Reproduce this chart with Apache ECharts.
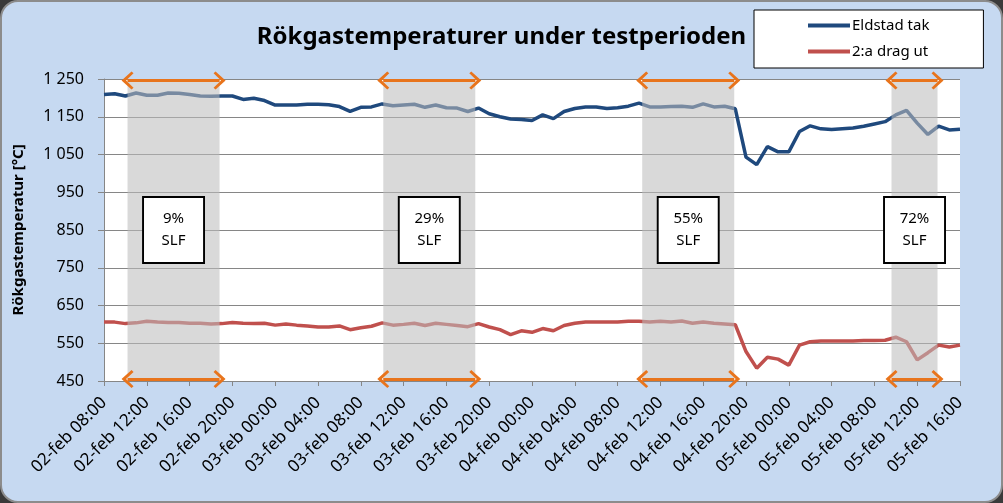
<!DOCTYPE html>
<html>
<head>
<meta charset="utf-8">
<title>Rökgastemperaturer under testperioden</title>
<script src="https://cdn.jsdelivr.net/npm/echarts@6/dist/echarts.min.js"></script>
<style>
  html, body { margin: 0; padding: 0; background: #3a3a3a; }
  #main {
    width: 1003px; height: 503px;
    box-sizing: border-box;
    border: 2px solid #8c8c8c;
    border-radius: 18px;
    background: #c6d9f1;
    overflow: hidden;
  }
</style>
</head>
<body>
<div id="main"></div>
<script>
// x-axis tick labels, every 4 hours
var tickLabels = ['02-feb 08:00', '02-feb 12:00', '02-feb 16:00', '02-feb 20:00',
  '03-feb 00:00', '03-feb 04:00', '03-feb 08:00', '03-feb 12:00', '03-feb 16:00', '03-feb 20:00',
  '04-feb 00:00', '04-feb 04:00', '04-feb 08:00', '04-feb 12:00', '04-feb 16:00', '04-feb 20:00',
  '05-feb 00:00', '05-feb 04:00', '05-feb 08:00', '05-feb 12:00', '05-feb 16:00'];

// hourly readings, starting 02-feb 08:00
var eldstadTak = [1209, 1211, 1205, 1213, 1207, 1207, 1213, 1212, 1209, 1205,
  1204, 1205, 1205, 1196, 1199, 1193, 1181, 1181, 1181, 1183,
  1183, 1182, 1177, 1164, 1175, 1176, 1184, 1179, 1181, 1183,
  1175, 1181, 1174, 1173, 1164, 1173, 1158, 1150, 1144, 1143,
  1140, 1155, 1145, 1164, 1172, 1176, 1176, 1172, 1174, 1178,
  1186, 1176, 1176, 1177, 1178, 1175, 1184, 1176, 1178, 1171,
  1043, 1023, 1071, 1057, 1057, 1111, 1126, 1118, 1116, 1118,
  1120, 1125, 1131, 1137, 1155, 1167, 1133, 1103, 1125, 1115, 1117];

var dragUt = [606, 606, 602, 604, 608, 606, 605, 605, 603, 603,
  601, 602, 605, 603, 602, 603, 598, 601, 598, 596,
  593, 593, 596, 586, 591, 595, 604, 598, 600, 603,
  597, 603, 600, 597, 594, 602, 593, 586, 573, 583,
  579, 589, 583, 597, 603, 606, 606, 606, 606, 608,
  608, 606, 608, 606, 609, 603, 606, 603, 601, 599,
  528, 484, 513, 508, 492, 545, 554, 556, 556, 556,
  556, 557, 557, 558, 566, 554, 506, 525, 545, 540, 545];

// test periods: start hour, end hour, share
var periodStart = [2.2, 26.1, 50.3, 73.6];
var periodEnd = [10.8, 34.7, 58.9, 77.9];
var periodLabel = ['9%', '29%', '55%', '72%'];

var chevron = 'path://M10,0 L20,10 L18,12 L10,4.5 L2,12 L0,10 Z';

var myChart = echarts.init(document.getElementById('main'));

var shadeData = [], arrowData = [], boxData = [];
for (var i = 0; i < periodStart.length; i++) {
  shadeData.push([{ xAxis: periodStart[i] }, { xAxis: periodEnd[i] }]);
  arrowData.push([{ coord: [periodStart[i], 1246] }, { coord: [periodEnd[i], 1246] }]);
  arrowData.push([{ coord: [periodStart[i], 455] }, { coord: [periodEnd[i], 455] }]);
  boxData.push({
    coord: [(periodStart[i] + periodEnd[i]) / 2, 850],
    value: periodLabel[i] + '\nSLF'
  });
}

function toPairs(arr) {
  return arr.map(function (v, h) { return [h, v]; });
}

myChart.setOption({
  backgroundColor: 'transparent',
  animation: false,
  textStyle: { fontFamily: 'Noto Sans' },
  title: {
    text: 'Rökgastemperaturer under testperioden',
    left: 'center',
    top: 18,
    textStyle: { fontSize: 24, fontWeight: 'bold', color: '#000', fontFamily: 'Noto Sans' }
  },
  legend: {
    data: ['Eldstad tak', '2:a drag ut'],
    orient: 'vertical',
    left: 752,
    top: 8,
    icon: 'rect',
    itemWidth: 42,
    itemHeight: 4,
    itemGap: 11,
    padding: [8, 54, 9, 54],
    backgroundColor: '#fff',
    borderColor: '#000',
    borderWidth: 1,
    textStyle: { fontSize: 15, color: '#000', padding: [0, 0, 0, -3] }
  },
  grid: {
    left: 102, right: 41, top: 77, bottom: 120,
    show: true, backgroundColor: '#fff', borderWidth: 0
  },
  xAxis: {
    type: 'value',
    min: 0, max: 80, interval: 4,
    axisLine: { lineStyle: { color: '#868686', width: 1 } },
    axisTick: { show: true, length: 5, lineStyle: { color: '#868686' } },
    splitLine: { show: false },
    axisLabel: {
      rotate: 45,
      margin: 19,
      fontSize: 17,
      color: '#000',
      formatter: function (v) { return tickLabels[v / 4]; }
    }
  },
  yAxis: {
    type: 'value',
    min: 450, max: 1250, interval: 100,
    name: 'Rökgastemperatur [°C]',
    nameLocation: 'middle',
    nameGap: 78,
    nameTextStyle: { fontSize: 15, fontWeight: 'bold', color: '#000' },
    axisLine: { show: true, lineStyle: { color: '#868686' } },
    axisTick: { show: true, length: 6, lineStyle: { color: '#868686' } },
    splitLine: { lineStyle: { color: '#868686', width: 1 } },
    axisLabel: {
      margin: 20,
      fontSize: 16,
      color: '#000',
      formatter: function (v) {
        return v >= 1000 ? Math.floor(v / 1000) + ' ' + String(v % 1000).padStart(3, '0') : String(v);
      }
    }
  },
  series: [{
    name: 'Eldstad tak',
    type: 'line',
    data: toPairs(eldstadTak),
    symbol: 'none',
    lineStyle: { color: '#1f497d', width: 3.5 },
    itemStyle: { color: '#1f497d' },
    z: 2
  }, {
    name: '2:a drag ut',
    type: 'line',
    data: toPairs(dragUt),
    symbol: 'none',
    lineStyle: { color: '#c0504d', width: 3.5 },
    itemStyle: { color: '#c0504d' },
    z: 2
  }, {
    name: 'shade',
    type: 'line',
    data: [],
    z: 3,
    silent: true,
    markArea: {
      silent: true,
      z: 3,
      itemStyle: { color: 'rgba(188,188,188,0.57)' },
      data: shadeData
    }
  }, {
    name: 'arrows',
    type: 'line',
    data: [],
    z: 4,
    silent: true,
    markLine: {
      silent: true,
      z: 4,
      symbol: [chevron, chevron],
      symbolSize: [18, 12],
      label: { show: false },
      lineStyle: { color: '#e8741c', width: 3, type: 'solid' },
      itemStyle: { color: '#e8741c' },
      data: arrowData
    }
  }, {
    name: 'boxes',
    type: 'line',
    data: [],
    z: 5,
    silent: true,
    markPoint: {
      silent: true,
      z: 5,
      symbol: 'rect',
      symbolSize: [61, 66],
      itemStyle: { color: '#fff', borderColor: '#000', borderWidth: 2 },
      label: {
        show: true,
        color: '#000',
        fontSize: 15,
        lineHeight: 22,
        formatter: function (p) { return p.value; }
      },
      data: boxData
    }
  }]
});
</script>
</body>
</html>
